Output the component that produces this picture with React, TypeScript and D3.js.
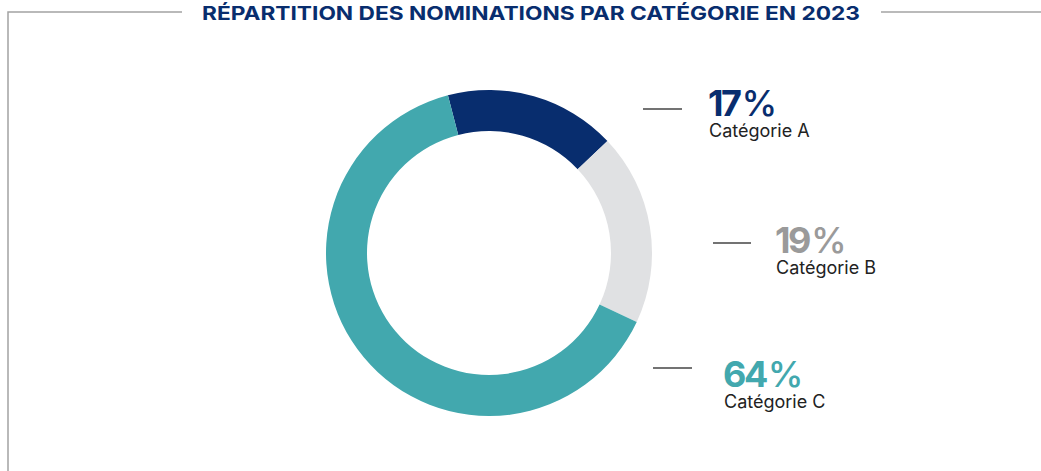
import React from "react";
import * as d3 from "d3";

const title = "RÉPARTITION DES NOMINATIONS PAR CATÉGORIE EN 2023";
const categories = ["Catégorie A", "Catégorie B", "Catégorie C"];
const values = [17, 19, 64];
const colors = ["#082d6e", "#e0e1e3", "#42a8ae"];
const pctColors = ["#082d6e", "#9a9a9a", "#42a8ae"];

// label layout (annotation placement)
const labelLayout = [
  { lineX1: 643, lineX2: 682, lineY: 109, x: 708, pctY: 116, catY: 137 },
  { lineX1: 713, lineX2: 751, lineY: 243, x: 775, pctY: 253, catY: 274 },
  { lineX1: 653, lineX2: 692, lineY: 368, x: 723, pctY: 387, catY: 408 },
];

const W = 1041;
const H = 471;
const cx = 489;
const cy = 253;
const outerR = 163;
const innerR = 122;
const startDeg = -14.6;

export default function App() {
  const start = (startDeg * Math.PI) / 180;
  const pie = d3
    .pie<number>()
    .sort(null)
    .startAngle(start)
    .endAngle(start + 2 * Math.PI);
  const arcs = pie(values);
  const arc = d3.arc<d3.PieArcDatum<number>>().innerRadius(innerR).outerRadius(outerR);
  const font = "Inter, 'Open Sans', sans-serif";
  return (
    <svg
      width={W}
      height={H}
      style={{ position: "absolute", left: 0, top: 0, display: "block", background: "#fff" }}
    >
      {/* frame */}
      <path d="M8,471 V12 H182" fill="none" stroke="#a3a3a3" strokeWidth={1.5} />
      <path d="M881,12 H1041" fill="none" stroke="#a3a3a3" strokeWidth={1.5} />
      <text
        x={531}
        y={20}
        textAnchor="middle"
        fontFamily={font}
        fontWeight={700}
        fontSize={19}
        fill="#082d6e"
        textLength={658}
        lengthAdjust="spacingAndGlyphs"
      >
        {title}
      </text>
      <g transform={`translate(${cx},${cy})`}>
        {arcs.map((a, i) => (
          <path key={i} d={arc(a) || ""} fill={colors[i]} />
        ))}
      </g>
      {labelLayout.map((l, i) => (
        <g key={i}>
          <line x1={l.lineX1} x2={l.lineX2} y1={l.lineY} y2={l.lineY} stroke="#444" strokeWidth={1.3} />
          <text x={l.x} y={l.pctY} fontFamily={font} fill={pctColors[i]} fontSize={36}>
            <tspan fontWeight={700} letterSpacing={-2.5}>{values[i]}</tspan>
            <tspan fontWeight={500} dx={2}>%</tspan>
          </text>
          <text x={l.x + 1} y={l.catY} fontFamily={font} fill="#222" fontSize={18}>
            {categories[i]}
          </text>
        </g>
      ))}
    </svg>
  );
}
